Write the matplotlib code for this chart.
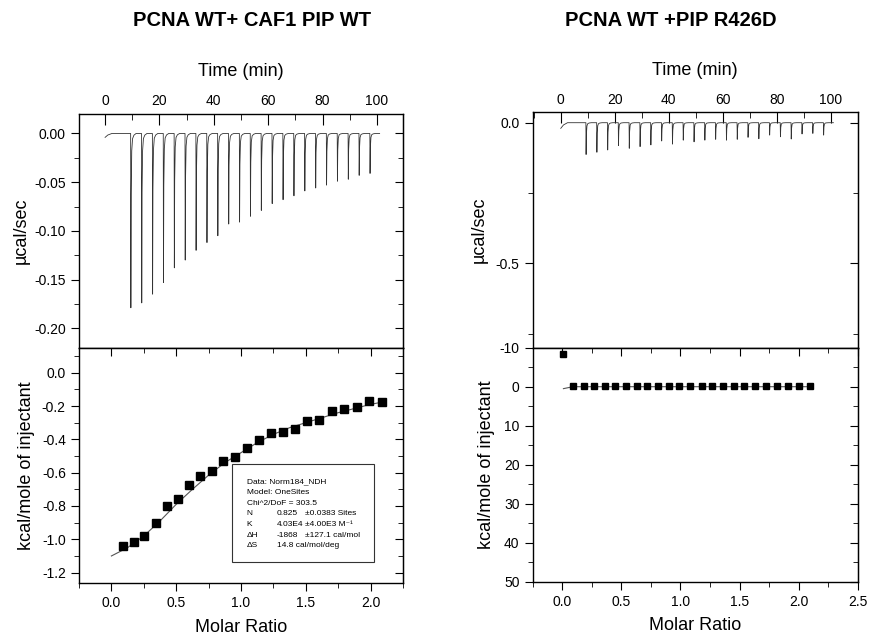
import numpy as np
import matplotlib
matplotlib.use("Agg")
import matplotlib.pyplot as plt
from matplotlib.ticker import MultipleLocator, FormatStrFormatter
from matplotlib.patches import Rectangle

plt.rcParams['font.family'] = ['Liberation Sans', 'DejaVu Sans']
plt.rcParams['axes.unicode_minus'] = False

# ---- data ----
# injection times (min), same protocol for both runs
inj_time_left = [9.4, 13.4, 17.4, 21.4, 25.4, 29.4, 33.4, 37.4, 41.4, 45.4, 49.4, 53.4,
                 57.4, 61.4, 65.4, 69.4, 73.4, 77.4, 81.4, 85.4, 89.4, 93.4, 97.4]
inj_peak_left = [-0.179, -0.174, -0.165, -0.153, -0.138, -0.130, -0.120, -0.112, -0.105,
                 -0.093, -0.091, -0.085, -0.079, -0.072, -0.068, -0.064, -0.059, -0.056,
                 -0.053, -0.049, -0.047, -0.043, -0.041]

inj_time_right = [9.3, 13.3, 17.3, 21.3, 25.3, 29.3, 33.3, 37.3, 41.3, 45.3, 49.3, 53.3,
                  57.3, 61.3, 65.3, 69.3, 73.3, 77.3, 81.3, 85.3, 89.3, 93.3, 97.3]
inj_peak_right = [-0.113, -0.105, -0.097, -0.081, -0.091, -0.085, -0.079, -0.065, -0.076,
                  -0.062, -0.068, -0.062, -0.059, -0.062, -0.059, -0.052, -0.057, -0.044,
                  -0.050, -0.058, -0.040, -0.038, -0.044]

# integrated heats
ratio_left = [0.087, 0.172, 0.254, 0.341, 0.428, 0.513, 0.600, 0.687, 0.777, 0.864, 0.956,
              1.044, 1.138, 1.228, 1.323, 1.415, 1.510, 1.602, 1.700, 1.798, 1.892, 1.990, 2.087]
heat_left = [-1.041, -1.015, -0.979, -0.903, -0.801, -0.759, -0.675, -0.619, -0.590, -0.529,
             -0.505, -0.452, -0.404, -0.359, -0.358, -0.338, -0.292, -0.284, -0.228, -0.220,
             -0.204, -0.172, -0.174]
fit_x_left = [0.0, 0.125, 0.25, 0.375, 0.5, 0.625, 0.75, 0.875, 1.0, 1.125, 1.25, 1.375,
              1.5, 1.625, 1.75, 1.875, 2.0, 2.1]
fit_y_left = [-1.10, -1.05, -0.98, -0.89, -0.79, -0.70, -0.615, -0.54, -0.48, -0.42, -0.37,
              -0.33, -0.30, -0.27, -0.24, -0.215, -0.19, -0.175]

ratio_right = [0.005, 0.09, 0.18, 0.27, 0.36, 0.45, 0.54, 0.63, 0.72, 0.81, 0.90, 0.99,
               1.08, 1.18, 1.27, 1.36, 1.45, 1.54, 1.63, 1.72, 1.82, 1.91, 2.00, 2.10]
heat_right = [-8.3, -0.3, -0.2, -0.2, -0.2, -0.2, -0.2, -0.2, -0.2, -0.2, -0.2, -0.2,
              -0.2, -0.2, -0.2, -0.2, -0.2, -0.2, -0.2, -0.2, -0.2, -0.2, -0.2, -0.2]
fit_x_right = [0.01, 0.09, 2.10]
fit_y_right = [0.5, 0.0, 0.0]

fit_text = [("Data: Norm184_NDH", "", ""),
            ("Model: OneSites", "", ""),
            ("Chi^2/DoF = 303.5", "", ""),
            ("N", "0.825", "\u00b10.0383 Sites"),
            ("K", "4.03E4", "\u00b14.00E3 M\u207b\u00b9"),
            ("\u0394H", "-1868", "\u00b1127.1 cal/mol"),
            ("\u0394S", "14.8 cal/mol/deg", "")]

# shape of one injection peak (offset in min, fraction of depth)
peak_dt = [0.0, 0.08, 0.2, 0.4, 0.7, 1.2, 2.0]
peak_frac = [0.0, 1.0, 0.35, 0.1, 0.03, 0.01, 0.0]


def thermogram(times, peaks, start_dip, t_end):
    tt = [0.0, 1.0, 2.5]
    yy = [start_dip, start_dip * 0.4, 0.0]
    for t0, p in zip(times, peaks):
        tt.append(t0 - 0.05)
        yy.append(0.0)
        for dt, f in zip(peak_dt, peak_frac):
            tt.append(t0 + dt)
            yy.append(p * f)
    tt.append(t_end)
    yy.append(0.0)
    return tt, yy


W, H = 871, 636
fig = plt.figure(figsize=(W / 100, H / 100), dpi=100)


def px_axes(x0, x1, y0, y1):
    return fig.add_axes([x0 / W, 1 - y1 / H, (x1 - x0) / W, (y1 - y0) / H])


def style_top(ax, ymaj, ymin):
    ax.xaxis.tick_top()
    ax.xaxis.set_label_position('top')
    ax.xaxis.set_major_locator(MultipleLocator(20))
    ax.xaxis.set_minor_locator(MultipleLocator(10))
    ax.tick_params(axis='x', which='both', direction='in', top=True, bottom=False,
                   labelsize=10, pad=4)
    ax.tick_params(axis='x', which='major', length=8)
    ax.tick_params(axis='x', which='minor', length=4)
    ax.yaxis.set_major_locator(MultipleLocator(ymaj))
    ax.yaxis.set_minor_locator(MultipleLocator(ymin))
    ax.tick_params(axis='y', which='both', direction='out', labelsize=10)
    ax.tick_params(axis='y', which='major', length=6)
    ax.tick_params(axis='y', which='minor', length=3.5)
    sec = ax.secondary_yaxis('right')
    sec.yaxis.set_major_locator(MultipleLocator(ymaj))
    sec.yaxis.set_minor_locator(MultipleLocator(ymin))
    sec.tick_params(which='both', direction='in', labelright=False)
    sec.tick_params(which='major', length=6)
    sec.tick_params(which='minor', length=3.5)
    ax.set_xlabel("Time (min)", fontsize=13, labelpad=13)
    ax.set_ylabel("\u00b5cal/sec", fontsize=13)


def style_bottom(ax, xmaj, xmin, ymaj, ymin):
    ax.xaxis.set_major_locator(MultipleLocator(xmaj))
    ax.xaxis.set_minor_locator(MultipleLocator(xmin))
    ax.yaxis.set_major_locator(MultipleLocator(ymaj))
    ax.yaxis.set_minor_locator(MultipleLocator(ymin))
    ax.tick_params(which='both', direction='out', labelsize=10)
    ax.tick_params(which='major', length=6)
    ax.tick_params(which='minor', length=3.5)
    secx = ax.secondary_xaxis('top')
    secx.xaxis.set_major_locator(MultipleLocator(xmaj))
    secx.xaxis.set_minor_locator(MultipleLocator(xmin))
    secx.tick_params(which='both', direction='in', labeltop=False)
    secx.tick_params(which='major', length=6)
    secx.tick_params(which='minor', length=3.5)
    secy = ax.secondary_yaxis('right')
    secy.yaxis.set_major_locator(MultipleLocator(ymaj))
    secy.yaxis.set_minor_locator(MultipleLocator(ymin))
    secy.tick_params(which='both', direction='in', labelright=False)
    secy.tick_params(which='major', length=6)
    secy.tick_params(which='minor', length=3.5)
    ax.set_xlabel("Molar Ratio", fontsize=13, labelpad=6)
    ax.set_ylabel("kcal/mole of injectant", fontsize=13)


# ---- left column ----
ax1 = px_axes(79, 403, 114, 347.7)
t, y = thermogram(inj_time_left, inj_peak_left, -0.004, 101)
ax1.plot(t, y, color='#333333', lw=0.6)
ax1.set_xlim(-9.6, 109.6)
ax1.set_ylim(-0.22, 0.02)
style_top(ax1, 0.05, 0.025)
ax1.yaxis.set_major_formatter(FormatStrFormatter('%.2f'))
ax1.yaxis.set_label_coords(-0.153, 0.5)

ax2 = px_axes(79, 403, 347.7, 583.3)
ax2.plot(fit_x_left, fit_y_left, color='#555555', lw=0.8)
ax2.plot(ratio_left, heat_left, 's', color='black', ms=6)
ax2.set_xlim(-0.25, 2.25)
ax2.set_ylim(-1.264, 0.15)
style_bottom(ax2, 0.5, 0.25, 0.2, 0.1)
ax2.yaxis.set_major_formatter(FormatStrFormatter('%.1f'))
ax2.yaxis.set_label_coords(-0.135, 0.5)

# fit parameter box
ax2.add_patch(Rectangle((0.472, 0.090), 0.438, 0.416, transform=ax2.transAxes,
                        fill=False, edgecolor='#333333', lw=0.8))
cols = [0.518, 0.610, 0.698]
for i, row in enumerate(fit_text):
    yy = 0.431 - i * 0.0454
    if row[1] == "":
        ax2.text(cols[0], yy, row[0], transform=ax2.transAxes, fontsize=6.0, va='center')
    else:
        for cx, s in zip(cols, row):
            if s:
                ax2.text(cx, yy, s, transform=ax2.transAxes, fontsize=6.0, va='center')

# ---- right column ----
ax3 = px_axes(532.7, 857.7, 112.3, 347.7)
t, y = thermogram(inj_time_right, inj_peak_right, -0.02, 101)
ax3.plot(t, y, color='#333333', lw=0.6)
ax3.set_xlim(-10.4, 110)
ax3.set_ylim(-0.80, 0.037)
style_top(ax3, 0.5, 0.25)
ax3.yaxis.set_major_formatter(FormatStrFormatter('%.1f'))
ax3.yaxis.set_label_coords(-0.137, 0.5)

ax4 = px_axes(532.7, 857.7, 347.7, 581.7)
ax4.plot(fit_x_right, fit_y_right, color='#555555', lw=0.8)
ax4.plot(ratio_right, heat_right, 's', color='black', ms=5)
ax4.set_xlim(-0.25, 2.5)
ax4.set_ylim(50, -10)
style_bottom(ax4, 0.5, 0.25, 10, 5)
ax4.yaxis.set_label_coords(-0.116, 0.5)

for a in (ax1, ax2, ax3, ax4):
    for s in a.spines.values():
        s.set_linewidth(1.0)

fig.text(252 / W, 1 - 21 / H, "PCNA WT+ CAF1 PIP WT", ha='center', va='center',
         fontsize=14.5, fontweight='bold')
fig.text(671 / W, 1 - 21 / H, "PCNA WT +PIP R426D", ha='center', va='center',
         fontsize=14.5, fontweight='bold')

fig.savefig("out.png", dpi=100)
